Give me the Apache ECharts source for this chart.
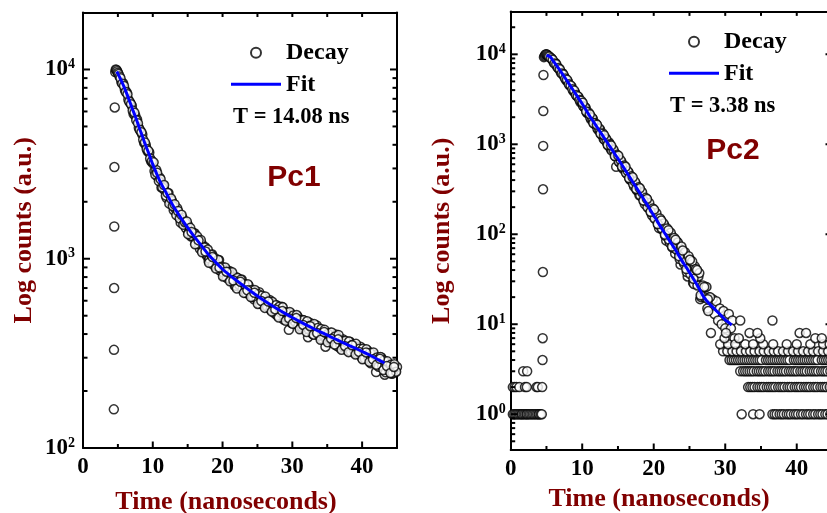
<!DOCTYPE html>
<html><head><meta charset="utf-8">
<script src="https://cdn.jsdelivr.net/npm/echarts@6/dist/echarts.min.js"></script>
<style>html,body{margin:0;padding:0;background:#fff}#c{width:827px;height:513px}</style>
</head><body><div id="c"></div>
<script>
// ---------------- DATA ----------------
const xTickValues = [0, 10, 20, 30, 40];
const xMajorTicks = [10, 20, 30, 40];
const xMinorTicks = [5, 15, 25, 35];
const yMajorTicksLeft = [1000, 10000];
const yMinorTicksLeft = [200,300,400,500,600,700,800,900,2000,3000,4000,5000,6000,7000,8000,9000];
const yMajorTicksRight = [1, 10, 100, 1000, 10000];
const yMinorTicksRight = [0.5,0.6,0.7,0.8,0.9,2,3,4,5,6,7,8,9,20,30,40,50,60,70,80,90,200,300,400,500,600,700,800,900,2000,3000,4000,5000,6000,7000,8000,9000,20000];

const pc1Decay = [[4.42,160],[4.44,330],[4.46,700],[4.48,1480],[4.5,3050],[4.55,6300],[4.62,9700],[4.7,10000],[4.8,9950],[4.9,9800],[5.0,9600],[5.1,9450],
[5.25,9190],[5.5,8570],[5.75,8470],[6,7820],[6.25,7590],[6.5,6940],[6.75,6690],[7,6430],[7.25,5810],[7.5,5700],[7.75,5440],[8,4925],[8.25,4720],[8.5,4540],[8.75,4095],[9,3990],[9.25,3700],[9.5,3646],[9.75,3273],[10,3197],
[10.25,2910],[10.5,2946],[10.75,2693],[11,2683],[11.25,2381],[11.5,2428],[11.75,2290],[12,2090],[12.25,2226],[12.5,1999],[12.75,2019],[13,1805],[13.25,1838],[13.5,1848],[13.75,1659],[14,1551],[14.25,1648],[14.5,1550],[14.75,1450],[15,1518],[15.25,1392],[15.5,1311],[15.75,1367],[16,1365],[16.25,1232],[16.5,1242],[16.75,1128],[17,1205],[17.25,1129],[17.5,1154],[17.75,1037],[18,977],[18.25,1051],[18.5,1055],[18.75,960],[19,912],[19.25,968],[19.5,984],[19.75,864],[20,871],[20.25,813],[20.5,876],[20.75,810],[21,861],[21.25,767],[21.5,802],[21.75,719],[22,799],[22.25,741],[22.5,707],[22.75,776],[23,698],[23.25,723],[23.5,656],[23.75,721],[24,649],[24.25,666],[24.5,610],[24.75,672],[25,623],[25.25,665],[25.5,587],[25.75,615],[26,564],[26.25,610],[26.5,566],[26.75,605],[27,540],[27.25,572],[27.5,514],[27.75,568],[28,528],[28.25,505],[28.5,558],[28.75,477],[29,523],[29.25,492],[29.5,421],[29.75,515],[30,469],[30.25,497],[30.5,454],[30.75,496],[31,458],[31.25,430],[31.5,475],[31.75,438],[32,456],[32.25,385],[32.5,459],[32.75,416],[33,428],[33.25,399],[33.5,444],[33.75,403],[34,423],[34.25,379],[34.5,395],[34.75,343],[35,403],[35.25,375],[35.5,406],[35.75,360],[36,375],[36.25,398],[36.5,383],[36.75,339],[37,353],[37.25,375],[37.5,339],[37.75,358],[38,326],[38.25,364],[38.5,333],[38.75,347],[39,317],[39.25,344],[39.5,317],[39.75,343],[40,298],[40.25,321],[40.5,302],[40.75,328],[41,302],[41.25,280],[41.5,313],[41.75,289],[42,252],[42.25,300],[42.5,271],[42.75,301],[43,270],[43.25,244],[43.5,281],[43.75,259],[44,272],[44.25,247],[44.5,271],[44.75,252],[45,268]];
const pc1DecayB = [[5.375,8990],[5.625,8415],[5.875,8180],[6.125,7610],[6.375,7390],[6.625,6780],[6.875,6560],[7.125,6070],[7.375,5915],[7.625,5390],[7.875,5205],[8.125,4810],[8.375,4655],[8.625,4260],[8.875,4115],[9.125,3805],[9.375,3715],[9.625,3390],[9.875,3280],
[10.125,3230],[10.375,2780],[10.625,2845],[10.875,2570],[11.125,2630],[11.375,2380],[11.625,2450],[11.875,2155],[12.125,2225],[12.375,1955],[12.625,2080],[12.875,1900],[13.125,1940],[13.375,1700],[13.625,1787],[13.875,1630],[14.125,1706],[14.375,1512],[14.625,1560],[14.875,1574],[15.125,1368],[15.375,1456],[15.625,1319],[15.875,1360],[16.125,1208],[16.375,1313],[16.625,1191],[16.875,1256],[17.125,1097],[17.375,1148],[17.625,1062],[17.875,1118],[18.125,998],[18.375,1049],[18.625,932],[18.875,1009],[19.125,931],[19.375,986],[19.625,865],[19.875,908],[20.125,846],[20.375,900],[20.625,791],[20.875,852],[21.125,780],[21.375,848],[21.625,771],[21.875,720],[22.125,792],[22.375,728],[22.625,775],[22.875,690],[23.125,735],[23.375,661],[23.625,734],[23.875,661],[24.125,684],[24.375,628],[24.625,684],[24.875,615],[25.125,650],[25.375,578],[25.625,638],[25.875,592],[26.125,632],[26.375,559],[26.625,592],[26.875,538],[27.125,592],[27.375,540],[27.625,567],[27.875,500],[28.125,557],[28.375,518],[28.625,554],[28.875,490],[29.125,520],[29.375,484],[29.625,523],[29.875,458],[30.125,501],[30.375,466],[30.625,504],[30.875,442],[31.125,474],[31.375,437],[31.625,473],[31.875,441],[32.125,467],[32.375,422],[32.625,444],[32.875,401],[33.125,452],[33.375,409],[33.625,430],[33.875,392],[34.125,425],[34.375,397],[34.625,421],[34.875,373],[35.125,401],[35.375,373],[35.625,408],[35.875,370],[36.125,388],[36.375,347],[36.625,396],[36.875,351],[37.125,369],[37.375,341],[37.625,369],[37.875,345],[38.125,365],[38.375,324],[38.625,351],[38.875,328],[39.125,355],[39.375,315],[39.625,335],[39.875,312],[40.125,335],[40.375,297],[40.625,332],[40.875,304],[41.125,319],[41.375,288],[41.625,320],[41.875,287],[42.125,301],[42.375,269],[42.625,303],[42.875,271],[43.125,290],[43.375,251],[43.625,287],[43.875,257],[44.125,275],[44.375,248],[44.625,277],[44.875,253]];
const pc1DecayC = [[15.06,1349],[15.56,1384],[16.06,1191],[16.56,1250],[17.06,1082],[17.56,1092],[18.06,951],[18.56,1020],[19.06,888],[19.56,898],[20.06,806],[20.56,854],[21.06,760],[21.56,767],[22.06,696],[22.56,756],[23.06,660],[23.56,681],[24.06,627],[24.56,661],[25.06,577],[25.56,598],[26.06,550],[26.56,594],[27.06,526],[27.56,540],[28.06,489],[28.56,529],[29.06,470],[29.56,484],[30.06,453],[30.56,486],[31.06,424],[31.56,447],[32.06,410],[32.56,440],[33.06,397],[33.56,405],[34.06,373],[34.56,410],[35.06,362],[35.56,378],[36.06,352],[36.56,375],[37.06,330],[37.56,345],[38.06,321],[38.56,349],[39.06,312],[39.56,322],[40.06,294],[40.56,320],[41.06,285],[41.56,294],[42.06,275],[42.56,296],[43.06,258],[43.56,271],[44.06,249],[44.56,268]];
const pc1Fit = [[4.83,9750],[5,9500],[5.5,8700],[6,7900],[6.5,7080],[7,6300],[7.5,5640],[8,5000],[8.5,4450],[9,3950],[9.5,3540],[10,3150],[11,2580],[12,2200],[13,1880],[14,1650],[15,1460],[16,1300],[17,1170],[18,1050],[19,960],[20,880],[21,820],[22,768],[23,720],[24,676],[25,636],[26,600],[27,568],[28,539],[29,513],[30,489],[31,467],[32,447],[33,428],[34,411],[35,395],[36,379],[37,364],[38,350],[39,337],[40,324],[41,311],[42,297],[43,284],[43.2,281]];

const pc2Pre = [[0.3,1],[0.5,1],[0.7,1],[0.9,1],[1.1,1],[1.3,1],[1.5,1],[1.6,1],[1.8,1],[2.0,1],[2.2,1],[2.3,1],[2.5,1],[2.7,1],[2.9,1],[3.1,1],[3.3,1],[3.5,1],[3.7,1],[3.9,1],[4.0,1],[4.2,1],[4.35,1],
[0.3,2],[0.55,2],[0.8,2],[1.2,2],[2.0,2],[2.25,2],[3.6,2],[3.8,2],[4.4,2],[1.75,3],[2.3,3]];
const pc2Decay = [[4.45,4],[4.47,7],[4.5,38],[4.52,316],[4.54,960],[4.56,2340],[4.58,5890],
[4.65,9300],[4.75,9600],[4.85,9900],[4.95,10000],[5.05,9950],[5.15,9800],
[5.25,9600],[5.5,9300],[5.75,8940],[6,8150],[6.25,8000],[6.5,7290],[6.75,6970],[7,6330],[7.25,6150],[7.5,5630],[7.75,5145],[8,5000],[8.25,4520],[8.5,4400],[8.75,3910],[9,3760],[9.25,3435],[9.5,3340],[9.75,2930],[10,2880],[10.25,2590],[10.5,2530],[10.75,2205],[11,2150],[11.25,1890],[11.5,1910],[11.75,1683],[12,1648],[12.25,1436],[12.5,1463],[12.75,1290],[13,1152],[13.25,1176],[13.5,1025],[13.75,1045],[14,885],[14.25,885],[14.5,818],[14.75,563],[15,727],[15.25,626],[15.5,636],[15.75,530],[16,535],[16.25,469],[16.5,486],[16.75,401],[17,408],[17.25,340],[17.5,364],[17.75,311],[18,272],[18.25,299],[18.5,253],[18.75,217],[19,245],[19.25,197],[19.5,199],[19.75,163],[20,185],[20.25,148],[20.5,154],[20.75,117],[21,142],[21.25,112],[21.5,125],[21.75,85],[22,104],[22.25,80],[22.5,97],[22.75,77],[23,61],[23.25,82],[23.5,64],[23.75,46],[24,67],[24.25,47],[24.5,54],[24.75,34],[25,53],[25.25,38],[25.5,29],[25.75,44],[26,29],[26.25,34],[26.5,19],[26.75,26],[27,20],[27.25,26],[27.5,15],[27.75,20],[28,8],[28.25,19],[28.5,13],[28.75,18],[29,11],[29.25,15],[29.5,10],[29.75,14],[30,9],[30.25,5],[30.5,13],[30.75,7],[31,11],[30.8,9],[31.3,7]];
const pc2DecayB = [[5.375,9450],[5.625,9040],[5.875,8680],[6.125,7910],[6.375,7740],[6.625,7060],[6.875,6810],[7.125,6110],[7.375,5950],[7.625,5385],[7.875,5220],[8.125,4635],[8.375,4510],[8.625,4090],[8.875,3965],[9.125,3520],[9.375,3420],[9.625,3100],[9.875,3040],[10.125,2665],[10.375,2595],[10.625,2270],[10.875,2255],[11.125,1980],[11.375,1980],[11.625,1707],[11.875,1705],[12.125,1500],[12.375,1500],[12.625,1295],[12.875,1320],[13.125,1125],[13.375,1137],[13.625,970],[13.875,1000],[14.125,855],[14.375,871],[14.625,736],[14.875,766],[15.125,641],[15.375,666],[15.625,550],[15.875,582],[16.125,481],[16.375,503],[16.625,412],[16.875,440],[17.125,361],[17.375,385],[17.625,309],[17.875,333],[18.125,271],[18.375,293],[18.625,237],[18.875,254],[19.125,200],[19.375,223],[19.625,177],[19.875,193],[20.125,150],[20.375,171],[20.625,128],[20.875,150],[21.125,116],[21.375,132],[21.625,96],[21.875,116],[22.125,87],[22.375,104],[22.625,71],[22.875,91],[23.125,68],[23.375,81],[23.625,53],[23.875,73],[24.125,50],[24.375,63],[24.625,38],[24.875,57],[25.125,36],[25.375,50],[25.625,28],[25.875,41],[26.125,27],[26.375,37],[26.625,20],[26.875,27],[27.125,20],[27.375,26],[27.625,14],[27.875,20]];
const pc2DecayC = [[10.06,2900],[10.56,2320],[11.06,2160],[11.56,1720],[12.06,1650],[12.56,1317],[13.06,1263],[13.56,987],[14.06,967],[14.56,741],[15.06,748],[15.56,566],[16.06,562],[16.56,421],[17.06,429],[17.56,319],[18.06,324],[18.56,237],[19.06,247],[19.56,178],[20.06,188],[20.56,130],[21.06,142],[21.56,99],[22.06,111],[22.56,73],[23.06,87],[23.56,57],[24.06,66],[24.56,41],[25.06,52],[25.56,32],[26.06,40],[26.56,21],[27.06,26],[27.56,19]];
const tailTimes1 = [32.3,33.9,34.8,36.6,36.9,37.2,37.6,37.9,38.2,38.6,38.9,39.2,39.6,39.9,40.2,40.6,40.9,41.3,41.6,41.9,42.3,42.6,43.0,43.3,43.6,44.0,44.3,44.7];
const tailTimes2 = [33.2,33.5,33.8,34.1,34.5,34.8,35.1,35.4,35.8,36.1,36.4,36.7,37.0,37.4,37.7,38.0,38.3,38.7,39.0,39.3,39.7,40.0,40.3,40.6,41.0,41.3,41.6,41.9,42.3,42.6,42.9,43.3,43.6,43.9,44.2,44.6,44.9];
const tailTimes3 = [32.1,32.5,32.8,33.1,33.4,33.7,34.0,34.4,34.7,35.0,35.3,35.6,36.0,36.3,36.6,36.9,37.3,37.6,37.9,38.2,38.5,38.9,39.2,39.5,39.8,40.1,40.5,40.8,41.1,41.4,41.8,42.1,42.4,42.7,43.0,43.4,43.7,44.0,44.3,44.7,45.0];
const tailTimes4 = [30.6,30.9,31.2,31.5,31.8,32.1,32.4,32.7,33.0,33.3,33.6,33.9,34.2,34.5,34.8,35.1,35.7,36.0,36.3,36.6,36.9,37.2,37.5,37.8,38.1,38.4,38.7,39.0,39.6,39.9,40.2,40.5,40.8,41.1,41.4,41.7,42.0,42.3,42.6,42.9,43.5,43.8,44.1,44.4,44.7];
const tailTimes5 = [29.7,30.3,31.0,31.6,32.2,32.9,33.5,34.1,34.8,35.4,36.1,36.8,37.4,38.1,38.8,39.5,40.2,40.9,41.6,42.3,43.0,43.7,44.4];
const tailTimes6 = [29.3,30.4,31.4,32.8,33.9,35.3,36.7,38.6,40.0,41.9,43.7,44.6];
const tailTimes7 = [29.9,31.9,34.9,42.6,43.5];
const tailTimes8 = [30.1,33.4,34.5,40.4,41.3];
const tailTimes11 = [32.1,36.6];
const pc2Fit = [[5.0,9770],[5.5,9400],[6,8320],[6.5,7360],[7,6460],[7.5,5630],[8,4900],[8.5,4270],[9,3720],[9.5,3240],[10,2820],[10.5,2430],[11,2090],[11.5,1820],[12,1585],[12.5,1380],[13,1200],[13.5,1046],[14,912],[14.5,794],[15,692],[15.5,600],[16,519],[16.5,450],[17,389],[17.5,337],[18,292],[18.5,253],[19,219],[19.5,188],[20,162],[20.5,140],[21,120],[21.5,104],[22,90],[22.5,78],[23,68],[23.5,58],[24,50],[24.5,43.5],[25,37.6],[25.5,32.4],[26,27.9],[26.5,23.7],[27,20],[27.5,17.9],[28,16.2],[28.5,14.8],[29,13.5],[29.5,12.3],[30,11.2],[30.5,10.4],[30.9,9.8]];

// ---------------- BUILD ----------------
function levelPts(times, v){ return times.map(t => [t, v]); }
const pc1All = pc1Decay.concat(pc1DecayB, pc1DecayC);
const pc2All = pc2Pre.concat(pc2Decay, pc2DecayB, pc2DecayC,
  levelPts(tailTimes1,1), levelPts(tailTimes2,2), levelPts(tailTimes3,3), levelPts(tailTimes4,4),
  levelPts(tailTimes5,5), levelPts(tailTimes6,6), levelPts(tailTimes7,7), levelPts(tailTimes8,8), levelPts(tailTimes11,11));

const SERIF = '"Liberation Serif","Times New Roman",serif';
const SANS = '"Liberation Sans",Arial,sans-serif';
const RED = '#800000';
const BLACK = '#000';

function logLabel(v){ const e = Math.log10(v); const r = Math.round(e); if (Math.abs(e - r) > 1e-6) return ''; return '{b|10}{s|' + r + '}'; }
const rich = {
  b: {fontFamily: SERIF, fontWeight: 'bold', fontSize: 23, color: BLACK, lineHeight: 24},
  s: {fontFamily: SERIF, fontWeight: 'bold', fontSize: 14, color: BLACK, lineHeight: 11, verticalAlign: 'top'}
};
const lineStyle = {color: BLACK, width: 2};

function xAxes(g, nameGap, padRight){
  return [
    {gridIndex: g, type: 'value', position: 'bottom', min: 0, max: 45, interval: 10,
     axisLine: {show: true, onZero: false, lineStyle}, axisTick: {show: false},
     axisLabel: {margin: 8, formatter: v => xTickValues.indexOf(v) >= 0 ? String(v) : '', fontFamily: SERIF, fontWeight: 'bold', fontSize: 23, color: BLACK, showMaxLabel: false},
     splitLine: {show: false},
     name: 'Time (nanoseconds)', nameLocation: 'middle', nameGap: nameGap,
     nameTextStyle: {fontFamily: SERIF, fontWeight: 'bold', fontSize: 26, color: RED, padding: [0, padRight, 0, 0]}},
    {gridIndex: g, type: 'value', position: 'top', min: 0, max: 45, interval: 10,
     axisLine: {show: true, onZero: false, lineStyle}, axisTick: {show: false},
     axisLabel: {show: false}, splitLine: {show: false}}
  ];
}
function yAxisMain(g, min, max, nameGap, margin){
  return {gridIndex: g, type: 'log', logBase: 10, position: 'left', min, max,
    axisLine: {show: true, onZero: false, lineStyle}, axisTick: {show: false},
    axisLabel: {margin, formatter: logLabel, rich},
    splitLine: {show: false},
    name: 'Log counts (a.u.)', nameLocation: 'middle', nameGap,
    nameTextStyle: {fontFamily: SERIF, fontWeight: 'bold', fontSize: 26, color: RED}};
}
const tickStyle = {stroke: BLACK, lineWidth: 2};
// x ticks: inward on bottom (major long, minor short) and top
function xTickRender(params, api){
  const px = api.coord([api.value(0), 1000])[0];
  const cs = params.coordSys;
  const major = api.value(2) === 1;
  const lb = major ? 6.5 : 4;
  const yb = cs.y + cs.height, yt = cs.y;
  return {type: 'group', children: [
    {type: 'line', shape: {x1: px, y1: yb, x2: px, y2: yb - lb}, style: tickStyle},
    {type: 'line', shape: {x1: px, y1: yt, x2: px, y2: yt + 4.5}, style: tickStyle}
  ]};
}
// y ticks: inward on left and right
function yTickRender(params, api){
  const py = api.coord([1, api.value(1)])[1];
  const cs = params.coordSys;
  const major = api.value(2) === 1;
  const len = major ? 7 : 4.5;
  return {type: 'group', children: [
    {type: 'line', shape: {x1: cs.x, y1: py, x2: cs.x + len, y2: py}, style: tickStyle},
    {type: 'line', shape: {x1: cs.x + cs.width - len, y1: py, x2: cs.x + cs.width, y2: py}, style: tickStyle}
  ]};
}
const xTickData = xMajorTicks.map(v => [v, 1000, 1]).concat(xMinorTicks.map(v => [v, 1000, 0]));
const yTickDataL = yMajorTicksLeft.map(v => [1, v, 1]).concat(yMinorTicksLeft.map(v => [1, v, 0]));
const yTickDataR = yMajorTicksRight.map(v => [1, v, 1]).concat(yMinorTicksRight.map(v => [1, v, 0]));

const scatterStyle = {color: '#fff', borderColor: BLACK, borderWidth: 1.5};
const fitLine = {color: '#0000ff', width: 3};
const legendText = {fontFamily: SERIF, fontWeight: 'bold', fontSize: 24, color: BLACK, lineHeight: 24};
const legendData = [{name: 'Decay'}, {name: 'Fit', icon: 'path://M0,0H50V3H0Z'}];

const option = {
  animation: false,
  backgroundColor: '#fff',
  grid: [
    {left: 83, top: 12.5, width: 314, height: 435.5, outerBoundsMode: 'none', containLabel: false},
    {left: 510.7, top: 11.4, width: 321.8, height: 438.6, outerBoundsMode: 'none', containLabel: false}
  ],
  xAxis: xAxes(0, 41, 28).concat(xAxes(1, 34, 25)),
  yAxis: [
    yAxisMain(0, 100, 20000, 46, 8),
    {gridIndex: 0, type: 'log', logBase: 10, position: 'right', min: 100, max: 20000,
     axisLine: {show: true, onZero: false, lineStyle}, axisTick: {show: false},
     axisLabel: {show: false}, splitLine: {show: false}},
    yAxisMain(1, 0.4, 30000, 55, 5)
  ],
  legend: [
    {left: 231, top: 40.7, orient: 'vertical', padding: 0, itemWidth: 50, itemHeight: 10, itemGap: 7.6,
     data: legendData, textStyle: legendText, selectedMode: false},
    {left: 669, top: 29.7, orient: 'vertical', padding: 0, itemWidth: 50, itemHeight: 10, itemGap: 7.6,
     data: legendData, textStyle: legendText, selectedMode: false}
  ],
  graphic: [
    {type: 'text', x: 233, y: 117, style: {text: 'T = 14.08 ns', font: 'bold 22.5px ' + SERIF, fill: BLACK, align: 'left', verticalAlign: 'middle', textAlign: 'left', textVerticalAlign: 'middle'}},
    {type: 'text', x: 670, y: 106, style: {text: 'T = 3.38 ns', font: 'bold 22.5px ' + SERIF, fill: BLACK, align: 'left', verticalAlign: 'middle', textAlign: 'left', textVerticalAlign: 'middle'}},
    {type: 'text', x: 294, y: 178, style: {text: 'Pc1', font: 'bold 30px ' + SANS, fill: RED, align: 'center', verticalAlign: 'middle', textAlign: 'center', textVerticalAlign: 'middle'}},
    {type: 'text', x: 733, y: 151, style: {text: 'Pc2', font: 'bold 30px ' + SANS, fill: RED, align: 'center', verticalAlign: 'middle', textAlign: 'center', textVerticalAlign: 'middle'}}
  ],
  series: [
    {name: 'Decay', type: 'scatter', xAxisIndex: 0, yAxisIndex: 0, data: pc1All, symbol: 'circle', symbolSize: 9, itemStyle: scatterStyle, z: 2, clip: false},
    {name: 'Fit', type: 'line', xAxisIndex: 0, yAxisIndex: 0, data: pc1Fit, symbol: 'none', smooth: 0.3, lineStyle: fitLine, itemStyle: {color: '#0000ff'}, z: 3},
    {type: 'custom', xAxisIndex: 0, yAxisIndex: 0, data: xTickData, renderItem: xTickRender, silent: true, z: 4},
    {type: 'custom', xAxisIndex: 0, yAxisIndex: 0, data: yTickDataL, renderItem: yTickRender, silent: true, z: 4},
    {name: 'Decay', type: 'scatter', xAxisIndex: 2, yAxisIndex: 2, data: pc2All, symbol: 'circle', symbolSize: 9, itemStyle: scatterStyle, z: 2, clip: false},
    {name: 'Fit', type: 'line', xAxisIndex: 2, yAxisIndex: 2, data: pc2Fit, symbol: 'none', smooth: 0.3, lineStyle: fitLine, itemStyle: {color: '#0000ff'}, z: 3},
    {type: 'custom', xAxisIndex: 2, yAxisIndex: 2, data: xTickData, renderItem: xTickRender, silent: true, z: 4},
    {type: 'custom', xAxisIndex: 2, yAxisIndex: 2, data: yTickDataR, renderItem: yTickRender, silent: true, z: 4}
  ]
};
const chart = echarts.init(document.getElementById('c'), null, {renderer: 'canvas'});
chart.setOption(option);
</script></body></html>
